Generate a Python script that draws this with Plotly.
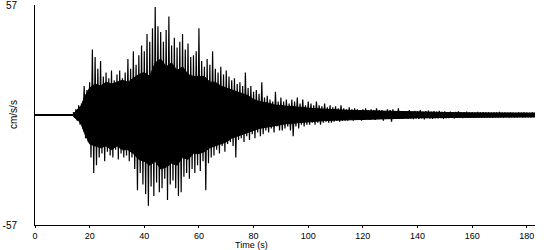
import plotly.graph_objects as go

# Pre-event baseline (s, cm/s/s)
pre_times = [0, 14]
pre_values = [0, 0]

# One peak (upper spike) and one trough (lower spike) per second, from t = 14 s to 183 s
start_second = 14
upper = [
    1.5, 3, 5, 6, 15, 13, 17, 34, 30, 24,
    28, 20, 22, 19, 23, 18, 21, 23, 19, 22,
    29, 24, 33, 26, 31, 36, 33, 42, 38, 45,
    56, 46, 43, 38, 44, 51, 36, 40, 35, 38,
    42, 34, 37, 30, 31, 33, 45, 28, 25, 29,
    26, 33, 24, 22, 25, 21, 23, 20, 18, 19,
    16, 17, 15, 22, 14, 15, 12, 13, 11, 17,
    9, 10, 8, 7, 12, 7,
    9, 7, 8, 6, 8, 7, 9, 6, 8, 5,
    7, 6, 5, 7, 5, 4.5, 6, 4, 5, 4,
    4.5, 3.5, 5, 3.5, 3, 4, 3, 3.5, 3, 2.5,
    3, 3.5, 2.5, 3, 2.5, 3.5, 2.5, 2.5, 2, 3,
    2.5, 3, 2, 3.5, 2, 2,
    2, 2.5, 1.8, 2.2, 2, 2.6, 1.8, 2, 2.3, 1.7, 2, 1.8, 2.2, 1.6, 1.9,
    1.5, 1.8, 1.4, 1.6, 1.9, 1.4, 1.5, 1.7, 1.3, 1.5, 1.4, 1.6, 1.3, 1.5, 1.4, 1.3,
    1.2, 1.4, 1.3, 1.6, 1.2, 1.3, 1.2, 1.4, 1.2, 1.1, 1.3, 1.2, 1.4, 1.2, 1.1, 1.3, 1.2,
]
lower = [
    -1.5, -3, -5, -7, -12, -14, -22, -30, -26, -22,
    -20, -24, -19, -21, -22, -18, -23, -20, -22, -21,
    -24, -22, -28, -39, -30, -36, -41, -47, -37, -42,
    -35, -40, -38, -33, -44, -36, -34, -38, -42, -40,
    -32, -30, -33, -28, -30, -26, -29, -24, -39, -25,
    -22, -21, -18, -20, -16, -19, -15, -14, -16, -22,
    -13, -12, -14, -11, -13, -10, -12, -9, -11, -10,
    -8, -9, -7, -9, -6, -8,
    -8, -7, -6, -8, -11, -6, -7, -5, -6, -5,
    -5, -4, -5, -4, -5, -4, -3.5, -4, -4, -3.5,
    -3, -3.5, -3, -3, -3, -2.5, -3, -2.5, -2.5, -3,
    -2.5, -2, -2.5, -2, -2.5, -2, -2, -3, -2, -2,
    -3.5, -2, -2, -2, -2, -1.5,
    -2, -1.8, -2.2, -1.7, -2, -1.8, -2.3, -1.6, -1.9, -2, -1.7, -1.8, -1.6, -2, -1.7,
    -1.6, -1.4, -1.7, -1.5, -1.4, -1.6, -1.3, -1.5, -1.4, -1.3, -1.5, -1.4, -1.3, -1.4, -1.2, -1.4,
    -1.3, -1.2, -1.4, -1.2, -1.3, -1.1, -1.3, -1.2, -1.4, -1.2, -1.1, -1.3, -1.2, -1.2, -1.3, -1.1, -1.2,
]

# Solid core of the record (the dense band beneath the spikes)
core_times = [14, 15, 16, 17, 18,
              20, 22, 24, 26, 28, 30, 32, 34, 36, 38,
              40, 42, 44, 46, 48, 50, 52, 54, 56, 58,
              60, 62, 64, 66, 68, 70, 72, 74, 76, 78,
              80, 82, 84, 86, 88, 90, 92, 94, 96, 98,
              100, 105, 110, 115, 120, 130, 140, 150, 160, 170, 183]
core_upper = [0.5, 2, 3, 5, 9,
              14, 16, 15, 17, 16, 17, 18, 17, 19, 21,
              22, 20, 27, 29, 25, 27, 23, 25, 21, 20,
              20, 20, 17, 17, 15, 14, 13, 12, 11, 10,
              8, 7, 6.5, 6, 5, 5, 4.5, 4.5, 4, 4,
              3.5, 3, 2.7, 2.4, 2.2, 1.8, 1.5, 1.3, 1.1, 1, 1]
core_lower = [-0.5, -2, -3, -5, -9,
              -15, -16, -17, -16, -18, -16, -18, -18, -20, -23,
              -24, -26, -24, -28, -27, -25, -26, -22, -23, -20,
              -20, -19, -17, -16, -15, -14, -12, -11, -10, -9,
              -8, -7, -6.5, -6, -5.5, -5, -4.5, -4.5, -4, -4,
              -3.5, -3, -2.7, -2.4, -2.2, -1.8, -1.5, -1.3, -1.1, -1, -1]

x_tick_values = [0, 20, 40, 60, 80, 100, 120, 140, 160, 180]
y_tick_values = [-57, 57]
y_tick_labels = ["-57", "57"]

times = []
values = []
for i, (u, l) in enumerate(zip(upper, lower)):
    t = start_second + i
    times += [t, t + 0.5]
    values += [u, l]

fig = go.Figure()
fig.add_trace(go.Scatter(x=core_times + core_times[::-1], y=core_upper + core_lower[::-1],
                         mode="lines", fill="toself", fillcolor="black",
                         line=dict(color="black", width=1), hoverinfo="skip"))
fig.add_trace(go.Scatter(x=pre_times, y=pre_values, mode="lines",
                         line=dict(color="black", width=2), hoverinfo="skip"))
fig.add_trace(go.Scatter(x=times, y=values, mode="lines",
                         line=dict(color="black", width=1.2), hoverinfo="skip"))

font = dict(family="Liberation Sans, Arial, sans-serif", size=10, color="black")
small_font = dict(family="Liberation Sans, Arial, sans-serif", size=9, color="black")
fig.update_layout(
    width=550, height=250,
    margin=dict(l=35, r=15, t=5, b=25, autoexpand=False),
    paper_bgcolor="white", plot_bgcolor="white",
    showlegend=False, font=font,
    xaxis=dict(range=[0, 183], tickvals=x_tick_values, showgrid=False, zeroline=False,
               showline=True, linecolor="black", linewidth=1, automargin=False,
               ticks="outside", ticklen=2, tickcolor="black", tickfont=small_font,
               ticklabelstandoff=0, ticklabeloverflow="allow"),
    yaxis=dict(range=[-57, 57], tickvals=y_tick_values, ticktext=y_tick_labels,
               showgrid=False, zeroline=False, showline=True, linecolor="black",
               linewidth=1, ticks="", ticklabelstandoff=15, tickfont=font,
               automargin=False, ticklabeloverflow="allow"),
    annotations=[
        dict(text="cm/s/s", xref="paper", yref="paper", x=0, y=0.5, xshift=-22,
             textangle=-90, showarrow=False, font=font, xanchor="center", yanchor="middle"),
        dict(text="Time (s)", xref="paper", yref="paper", x=0.432, y=0, yshift=-20,
             showarrow=False, font=small_font, xanchor="center", yanchor="middle"),
    ],
)
fig.write_html("out.html")
